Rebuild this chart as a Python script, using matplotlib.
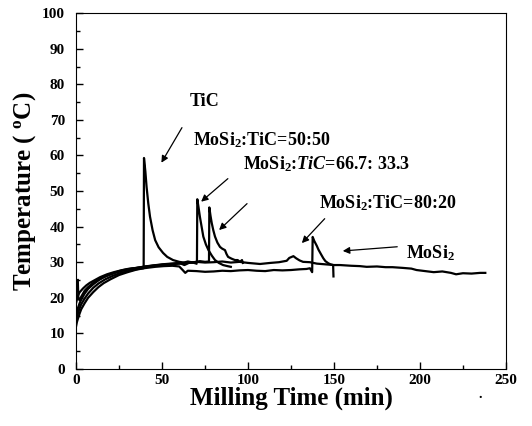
import matplotlib
matplotlib.use("Agg")
import matplotlib.pyplot as plt
from matplotlib.ticker import MultipleLocator

plt.rcParams['font.family'] = ['Liberation Serif', 'DejaVu Serif']
plt.rcParams['font.weight'] = 'bold'
plt.rcParams['mathtext.fontset'] = 'custom'
plt.rcParams['mathtext.rm'] = 'Liberation Serif:bold'
plt.rcParams['mathtext.it'] = 'Liberation Serif:bold:italic'

# TiC
tic_x = [0, 0.5, 1, 2, 3, 5, 7, 10, 13, 16, 20, 25, 30, 35, 39.3,
         39.5, 40.3, 41, 42, 43, 44.5, 46, 48, 50.6, 53, 56.4, 60, 64, 68, 70]
tic_y = [12, 13.2, 14, 15.5, 16.8, 18.5, 20, 21.6, 23, 24.1, 25.2, 26.4, 27.2, 27.9, 28.3,
         59.3, 55.5, 51.2, 46.5, 42.8, 39, 36.2, 34.2, 32.6, 31.5, 30.6, 30.1, 29.8, 29.9, 29.6]

# MoSi2:TiC = 50:50
r50_x = [0, 1, 2, 3, 5, 7, 10, 13, 16, 20, 25, 30, 35, 40, 45, 50, 55, 60, 63, 66, 70.3,
         70.5, 71.2, 72, 73, 74, 75.5, 77, 79, 80.8, 83, 85.5, 88, 90]
r50_y = [15, 17, 18.4, 19.5, 21.2, 22.5, 23.8, 24.9, 25.8, 26.6, 27.5, 28.1, 28.4, 28.8, 29.1, 29.4, 29.6, 29.8, 29.2, 29.9, 30.0,
         47.7, 45.5, 42.8, 40, 37.2, 35, 33.4, 31.8, 30.6, 29.8, 29.2, 28.9, 28.7]

# MoSi2:TiC = 66.7:33.3
r67_x = [0, 1, 2, 4, 6, 8, 11, 14, 18, 22, 27, 32, 37, 42, 47, 52, 57, 62, 65, 68, 72, 75, 77.3,
         77.5, 78.2, 78.9, 79.8, 80.8, 82.2, 83.7, 85, 86.6, 87.5, 88.4, 90.4, 92.4, 94, 95.3, 96.5, 97]
r67_y = [18.5, 20.5, 21.5, 22.6, 23.5, 24.2, 25, 25.8, 26.6, 27.2, 27.8, 28.2, 28.5, 28.8, 29.1, 29.3, 29.5, 29.8, 30.2, 29.9, 30.3, 30.1, 30.2,
         45.4, 43, 41, 39, 37.2, 35.5, 34.3, 33.8, 33.4, 32.3, 31.5, 31, 30.6, 30.6, 30.1, 30.6, 29.8]

# MoSi2:TiC = 80:20
r80_x = [0, 1, 2, 3, 5, 7, 10, 13, 17, 21, 26, 31, 36, 41, 46, 51, 56, 60, 62, 63.5, 65, 70, 75, 80,
         85, 90, 95, 100, 105, 110, 115, 120, 125, 130, 134, 136, 137.3, 137.6, 138.5, 140, 141,
         142.5, 143.8, 145, 146.7, 148, 149.5, 149.7]
r80_y = [13.5, 15.5, 17, 18.2, 19.8, 21.2, 22.8, 24, 25.2, 26.1, 27, 27.6, 28.1, 28.4, 28.7, 28.9, 29, 28.8, 27.8, 27, 27.6, 27.5, 27.3, 27.4,
         27.6, 27.5, 27.7, 27.8, 27.6, 27.5, 27.8, 27.7, 27.8, 28, 28.1, 28.3, 27.2, 37.1, 36, 34.6, 33.5,
         32.2, 31.1, 30.3, 29.7, 29.4, 29.2, 26]

# MoSi2
mosi_x = [1.0, 1.3, 2, 3, 5, 7, 10, 14, 18, 22, 27, 32, 38, 44, 50, 55, 60, 65, 70, 75, 80, 85, 90, 95,
          100, 107, 113, 118, 122.5, 124, 126.4, 128, 130, 132, 136, 140, 145, 150, 153.5, 160, 165,
          169, 175, 180, 184, 190, 195, 198, 203, 208, 213, 218, 221, 225, 230, 235, 238]
mosi_y = [25, 20, 19.3, 20.3, 22, 23, 24.2, 25.3, 26.2, 26.9, 27.6, 28.1, 28.6, 29, 29.3, 29.5, 29.6, 29.8, 30.1, 29.9, 30, 30.2, 29.9, 30.1,
          29.8, 29.5, 29.8, 30, 30.4, 31.2, 31.7, 31.1, 30.5, 30.1, 30, 29.6, 29.4, 29.2, 29.2, 29, 28.9,
          28.7, 28.8, 28.6, 28.6, 28.4, 28.2, 27.8, 27.5, 27.2, 27.4, 27, 26.6, 26.9, 26.8, 27, 27]

series = [(tic_x, tic_y), (r50_x, r50_y), (r67_x, r67_y), (r80_x, r80_y), (mosi_x, mosi_y)]

labels = ['TiC', r'MoSi$_2$:TiC=50:50', r'MoSi$_2$:$\mathit{TiC}$=66.7: 33.3',
          r'MoSi$_2$:TiC=80:20', r'MoSi$_2$']
label_pos = [(75, 75.1), (68, 64.3), (97, 57.5), (141.5, 46.5), (192, 32.6)]
label_ha = ['center', 'left', 'left', 'left', 'left']
arrow_from = [(62.4, 68.5), (89.5, 54), (100.6, 47), (145.7, 42.8), (188.4, 34.4)]
arrow_to = [(48.8, 57.3), (71.5, 46.5), (82, 38.5), (130.2, 34.8), (153.5, 33.1)]

fig, ax = plt.subplots(figsize=(5.32, 4.26), dpi=100)
fig.subplots_adjust(left=0.143, right=0.951, bottom=0.134, top=0.969)

for x, y in series:
    ax.plot(x, y, color='black', lw=1.6)

for txt, (tx, ty), ha in zip(labels, label_pos, label_ha):
    ax.text(tx, ty, txt, ha=ha, va='center', fontsize=13, fontweight='bold')

for (x0, y0), (x1, y1) in zip(arrow_from, arrow_to):
    ax.annotate('', xy=(x1, y1), xytext=(x0, y0),
                arrowprops=dict(arrowstyle='-|>', color='black', lw=0.9, mutation_scale=10))

ax.set_xlim(0, 250)
ax.set_ylim(0, 100)
ax.xaxis.set_major_locator(MultipleLocator(50))
ax.xaxis.set_minor_locator(MultipleLocator(25))
ax.yaxis.set_major_locator(MultipleLocator(10))
ax.yaxis.set_minor_locator(MultipleLocator(5))
ax.tick_params(which='both', direction='in', top=False, right=False, labelsize=11, width=1)
ax.tick_params(axis='x', which='major', length=5, pad=4)
ax.tick_params(axis='y', which='major', length=5, pad=8)
ax.tick_params(which='minor', length=3)
for lab in ax.get_xticklabels() + ax.get_yticklabels():
    lab.set_fontweight('bold')

ax.set_xlabel('Milling Time (min)', fontsize=18, fontweight='bold', labelpad=-1)
ax.set_ylabel(r'Temperature ( $^{\rm o}$C)', fontsize=18, fontweight='bold', labelpad=3)

fig.text(480 / 532, 1 - 394 / 426, '.', fontsize=10, fontweight='bold', ha='center', va='center')

fig.savefig('out.png', dpi=100)
